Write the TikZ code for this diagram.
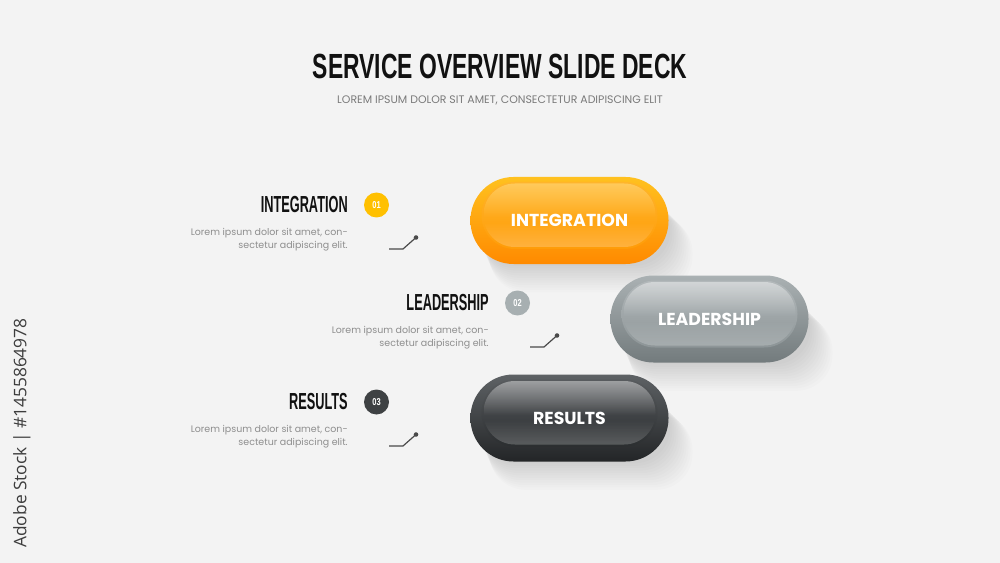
\documentclass[tikz,border=0pt]{standalone}
\usepackage{fontspec}
\setmainfont{Poppins}
\newfontfamily\condA[FakeStretch=0.655]{Liberation Sans}
\newfontfamily\condB[FakeStretch=0.55]{Liberation Sans}
\newfontfamily\condN[FakeStretch=0.75]{Liberation Sans}
\newfontfamily\sidefont{Open Sans}
\usetikzlibrary{fadings,calc}
\definecolor{bgC}{HTML}{F3F3F3}
\definecolor{titleC}{HTML}{111111}
\definecolor{subC}{HTML}{7A7A7A}
\definecolor{descC}{HTML}{8E8E8E}
\definecolor{lineC}{HTML}{4A4A4A}
\definecolor{stockC}{HTML}{3D3D3D}
\definecolor{c1}{HTML}{FFC000}
\definecolor{c2}{HTML}{A7AFB1}
\definecolor{c3}{HTML}{3E4143}
\definecolor{oAt}{HTML}{FFC11F}
\definecolor{oAb}{HTML}{FF8A00}
\definecolor{iAt}{HTML}{FFB52A}
\definecolor{iAb}{HTML}{FF9C08}
\definecolor{hA}{HTML}{FFE7A0}
\definecolor{oBt}{HTML}{AAB1B3}
\definecolor{oBb}{HTML}{737B7D}
\definecolor{iBt}{HTML}{B2B8BA}
\definecolor{iBb}{HTML}{8D9597}
\definecolor{oCt}{HTML}{5E6265}
\definecolor{oCb}{HTML}{232527}
\definecolor{iCt}{HTML}{585B5E}
\definecolor{iCb}{HTML}{2B2E30}
\tikzfading[name=fadedown, top color=transparent!0, bottom color=transparent!100]
\tikzfading[name=fadeup, top color=transparent!100, bottom color=transparent!0]
\tikzset{
  titletext/.style={font=\condA\bfseries\fontsize{26.2pt}{30pt}\selectfont, text=titleC, inner sep=0pt},
  subtext/.style={font=\fontsize{8.2pt}{10pt}\selectfont, text=subC, inner sep=0pt},
  labeltext/.style={font=\condB\bfseries\fontsize{17.4pt}{20pt}\selectfont, text=titleC, inner sep=0pt, anchor=east},
  desctext/.style={font=\fontsize{7.1pt}{9pt}\selectfont, text=descC, inner sep=0pt, anchor=base east},
  numcircle/.style={circle, minimum size=18.75pt, inner sep=0pt, text=white, font=\condN\bfseries\fontsize{7.5pt}{9pt}\selectfont},
  btntext/.style={font=\bfseries\fontsize{13pt}{15pt}\selectfont, text=white, inner sep=0pt},
  tick/.style={draw=lineC, line width=0.9pt},
  tickdot/.style={fill=lineC},
}
\newcommand\glosspill[9]{%
  \begin{scope}[shift={(#2,#3)}]
    \foreach \i in {1,...,12}{
      \fill[black, fill opacity=0.013, rounded corners=27pt] (-92+\i,-28+2*\i) rectangle (99+2*\i,43+2.4*\i);
    }
    \shade[top color=#5, bottom color=#6, rounded corners=32.25pt] (-99,-43.5) rectangle (99,43.5);
    \shade[top color=#7, bottom color=#8, rounded corners=25pt] (-88,-38.5) rectangle (88,28.5);
    \begin{scope}
      \clip[rounded corners=23.6pt] (-86,-37) rectangle (86,26.5);
      \fill[#9, fill opacity=0.42, path fading=fadedown] (-86,-37) rectangle (86,-3);
      \fill[white, fill opacity=0.22, path fading=fadeup] (-86,2) rectangle (86,26.5);
    \end{scope}
    \node[btntext] (#1) at (0,0) {#4};
  \end{scope}
}
\newcommand\sideitem[6]{%
  \node[labeltext] (lab#1) at (#2,#3) {#4};
  \node[numcircle, fill=#5] (num#1) at ($(#2,#3)+(28.5,0)$) {#6};
  \node[desctext] (da#1) at ($(#2,#3)+(0,30)$) {Lorem ipsum dolor sit amet, con-};
  \node[desctext] (db#1) at ($(#2,#3)+(0,43)$) {sectetur adipiscing elit.};
  \coordinate (ta#1) at ($(#2,#3)+(41,44)$);
  \coordinate (tb#1) at ($(#2,#3)+(55,44)$);
  \coordinate (tc#1) at ($(#2,#3)+(68,32.5)$);
  \draw[tick] (ta#1) -- (tb#1) -- (tc#1);
  \fill[tickdot] (tc#1) circle (1.7pt);
}
\begin{document}
\begin{tikzpicture}[x=0.75pt, y=-0.75pt]
  \fill[bgC] (0,0) rectangle (1000,563);
  \useasboundingbox (0,0) rectangle (1000,563);

  \node[titletext] (title) at (500,66) {SERVICE OVERVIEW SLIDE DECK};
  \node[subtext] (subtitle) at (500,100) {LOREM IPSUM DOLOR SIT AMET, CONSECTETUR ADIPISCING ELIT};

  \glosspill{btnA}{569.5}{220.5}{INTEGRATION}{oAt}{oAb}{iAt}{iAb}{hA}
  \glosspill{btnB}{709.5}{319}{LEADERSHIP}{oBt}{oBb}{iBt}{iBb}{white}
  \glosspill{btnC}{569.5}{418}{RESULTS}{oCt}{oCb}{iCt}{iCb}{white}

  \sideitem{1}{348}{205}{INTEGRATION}{c1}{01}
  \sideitem{2}{489}{303}{LEADERSHIP}{c2}{02}
  \sideitem{3}{348}{402}{RESULTS}{c3}{03}

  \node[font=\sidefont\fontsize{13pt}{15pt}\selectfont, text=stockC, rotate=90, inner sep=0pt] (stock) at (22,433) {Adobe Stock | \#1455864978};
\end{tikzpicture}
\end{document}
